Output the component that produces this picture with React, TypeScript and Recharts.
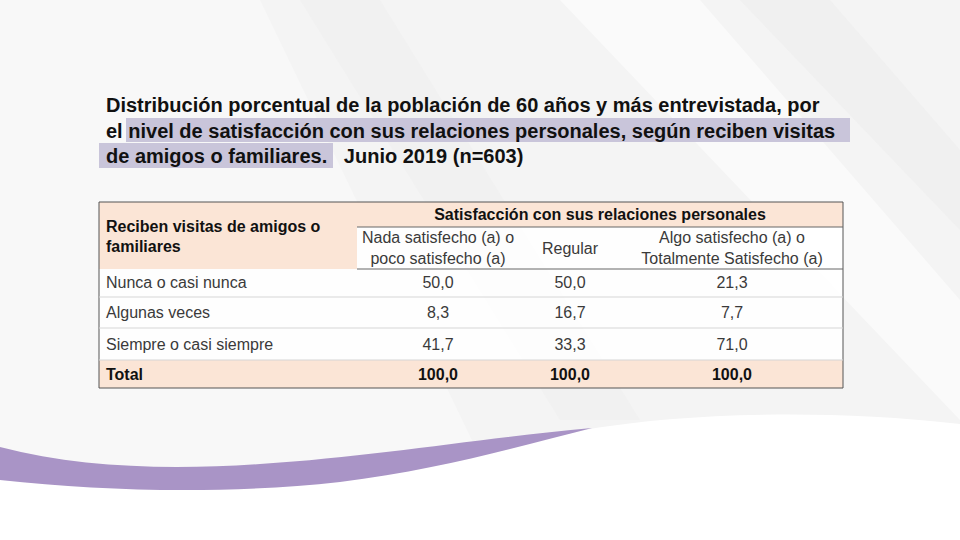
import {
  ComposedChart,
  ReferenceArea,
  ReferenceLine,
  Scatter,
  XAxis,
  YAxis,
} from "recharts";

const ROW_LABELS = ["Nunca o casi nunca", "Algunas veces", "Siempre o casi siempre"];
const COLUMN_HEADERS = [
  ["Nada satisfecho (a) o", "poco satisfecho (a)"],
  ["Regular"],
  ["Algo satisfecho (a) o", "Totalmente Satisfecho (a)"],
];
const NADA = [50.0, 8.3, 41.7];
const REGULAR = [50.0, 16.7, 33.3];
const ALGO = [21.3, 7.7, 71.0];
const TOTALS = [100.0, 100.0, 100.0];
const TITLE_LINES = [
  "Distribución porcentual de la población de 60 años y más entrevistada, por",
  "el nivel de satisfacción con sus relaciones personales, según reciben visitas",
  "de amigos o familiares.   Junio 2019 (n=603)",
];

// layout
const W = 960;
const H = 540;
const COL_X = [438, 570, 732];
const ROW_Y = [282, 312, 344];
const TOTAL_Y = 374;
const LABEL_X = 106;
const PEACH = "#fbe5d6";
const FONT = "'Liberation Sans', Arial, sans-serif";
const FS = 16;

const fmt = (v: number) => v.toFixed(1).replace(".", ",");

const values = [NADA, REGULAR, ALGO];
const cellPoints = values.flatMap((col, c) =>
  col.map((v, r) => ({ x: COL_X[c], y: ROW_Y[r], text: fmt(v) }))
);
const totalPoints = TOTALS.map((v, c) => ({ x: COL_X[c], y: TOTAL_Y, text: fmt(v) }));
const rowLabelPoints = ROW_LABELS.map((t, r) => ({ x: LABEL_X, y: ROW_Y[r], text: t }));
const headerPoints = COLUMN_HEADERS.map((lines, c) => ({ x: COL_X[c], y: 248, lines }));

const textShape =
  (anchor: "start" | "middle", weight: number, color: string) =>
  (props: any) => {
    const { cx, cy, payload } = props;
    return (
      <text
        x={cx}
        y={cy}
        textAnchor={anchor}
        dominantBaseline="central"
        fontFamily={FONT}
        fontSize={FS}
        fontWeight={weight}
        fill={color}
      >
        {payload.text}
      </text>
    );
  };

const headerShape = (props: any) => {
  const { cx, cy, payload } = props;
  const lines: string[] = payload.lines;
  const start = cy - ((lines.length - 1) * 21) / 2;
  return (
    <text textAnchor="middle" fontFamily={FONT} fontSize={FS} fill="#3a3a3a">
      {lines.map((l, i) => (
        <tspan key={i} x={cx} y={start + i * 21} dominantBaseline="central">
          {l}
        </tspan>
      ))}
    </text>
  );
};

function Background() {
  return (
    <svg width={W} height={H} style={{ position: "absolute", left: 0, top: 0 }}>
      <rect x={0} y={0} width={W} height={H} fill="#f4f4f4" />
      <polygon points="0,0 260,0 520,540 0,540" fill="#f8f8f8" />
      <polygon points="560,0 700,0 960,300 960,420" fill="#fafafa" />
      <polygon points="740,0 830,0 960,150 960,230" fill="#ececec" opacity={0.6} />
      <polygon points="300,0 380,0 640,420 560,420" fill="#efefef" opacity={0.7} />
      {/* white bottom area */}
      <path
        d="M0,480 C120,492 260,488 380,470 C470,456 540,440 590,429 C680,414 820,408 960,424 L960,540 L0,540 Z"
        fill="#ffffff"
      />
      {/* purple swoosh */}
      <path
        d="M0,447 C80,468 170,470 260,464 C380,456 480,438 592,428 C520,446 440,470 340,482 C230,494 110,492 0,480 Z"
        fill="#a994c6"
      />
    </svg>
  );
}

export default function App() {
  return (
    <div style={{ position: "absolute", left: 0, top: 0, width: W, height: H, overflow: "hidden" }}>
      <Background />
      <div style={{ position: "absolute", left: 0, top: 0 }}>
        <ComposedChart width={W} height={H} margin={{ top: 0, right: 0, bottom: 0, left: 0 }}>
          <XAxis type="number" dataKey="x" domain={[0, W]} hide />
          <YAxis type="number" dataKey="y" domain={[0, H]} reversed hide />

          {/* title highlights */}
          <ReferenceArea x1={126} x2={850} y1={118} y2={142} fill="#c9c5da" fillOpacity={1} stroke="none" />
          <ReferenceArea x1={99} x2={333} y1={143} y2={168} fill="#c9c5da" fillOpacity={1} stroke="none" />

          {/* table backgrounds */}
          <ReferenceArea x1={99} x2={843} y1={202} y2={388} fill="#ffffff" fillOpacity={0.85} stroke="none" />
          <ReferenceArea x1={99} x2={357} y1={202} y2={269} fill={PEACH} fillOpacity={1} stroke="none" />
          <ReferenceArea x1={357} x2={843} y1={202} y2={227} fill={PEACH} fillOpacity={1} stroke="none" />
          <ReferenceArea x1={99} x2={843} y1={360} y2={388} fill={PEACH} fillOpacity={1} stroke="none" />

          {/* table lines */}
          <ReferenceLine segment={[{ x: 357, y: 227 }, { x: 843, y: 227 }]} stroke="#666" />
          <ReferenceLine segment={[{ x: 357, y: 269 }, { x: 843, y: 269 }]} stroke="#666" />
          <ReferenceLine segment={[{ x: 99, y: 297 }, { x: 843, y: 297 }]} stroke="#d6d6d6" />
          <ReferenceLine segment={[{ x: 99, y: 328 }, { x: 843, y: 328 }]} stroke="#d6d6d6" />
          <ReferenceLine segment={[{ x: 99, y: 360 }, { x: 843, y: 360 }]} stroke="#d6d6d6" />
          <ReferenceArea x1={99} x2={843} y1={202} y2={388} fill="none" stroke="#555" strokeWidth={1} />

          <Scatter data={headerPoints} shape={headerShape} isAnimationActive={false} />
          <Scatter data={cellPoints} shape={textShape("middle", 400, "#3a3a3a")} isAnimationActive={false} />
          <Scatter data={rowLabelPoints} shape={textShape("start", 400, "#3a3a3a")} isAnimationActive={false} />
          <Scatter data={totalPoints} shape={textShape("middle", 700, "#111")} isAnimationActive={false} />
        </ComposedChart>
      </div>

      {/* fixed header texts */}
      <svg width={W} height={H} style={{ position: "absolute", left: 0, top: 0, pointerEvents: "none" }}>
        <g fontFamily={FONT} fontSize={FS} fontWeight={700} fill="#111">
          <text x={600} y={214} textAnchor="middle" dominantBaseline="central">
            Satisfacción con sus relaciones personales
          </text>
          <text x={LABEL_X} y={226} dominantBaseline="central">
            Reciben visitas de amigos o
          </text>
          <text x={LABEL_X} y={246} dominantBaseline="central">
            familiares
          </text>
          <text x={LABEL_X} y={TOTAL_Y} dominantBaseline="central">
            Total
          </text>
        </g>
        <g fontFamily={FONT} fontSize={20} fontWeight={700} fill="#111">
          {TITLE_LINES.map((l, i) => (
            <text key={i} x={106} y={105 + i * 25.5} dominantBaseline="central" xmlSpace="preserve">
              {l}
            </text>
          ))}
        </g>
      </svg>
    </div>
  );
}
